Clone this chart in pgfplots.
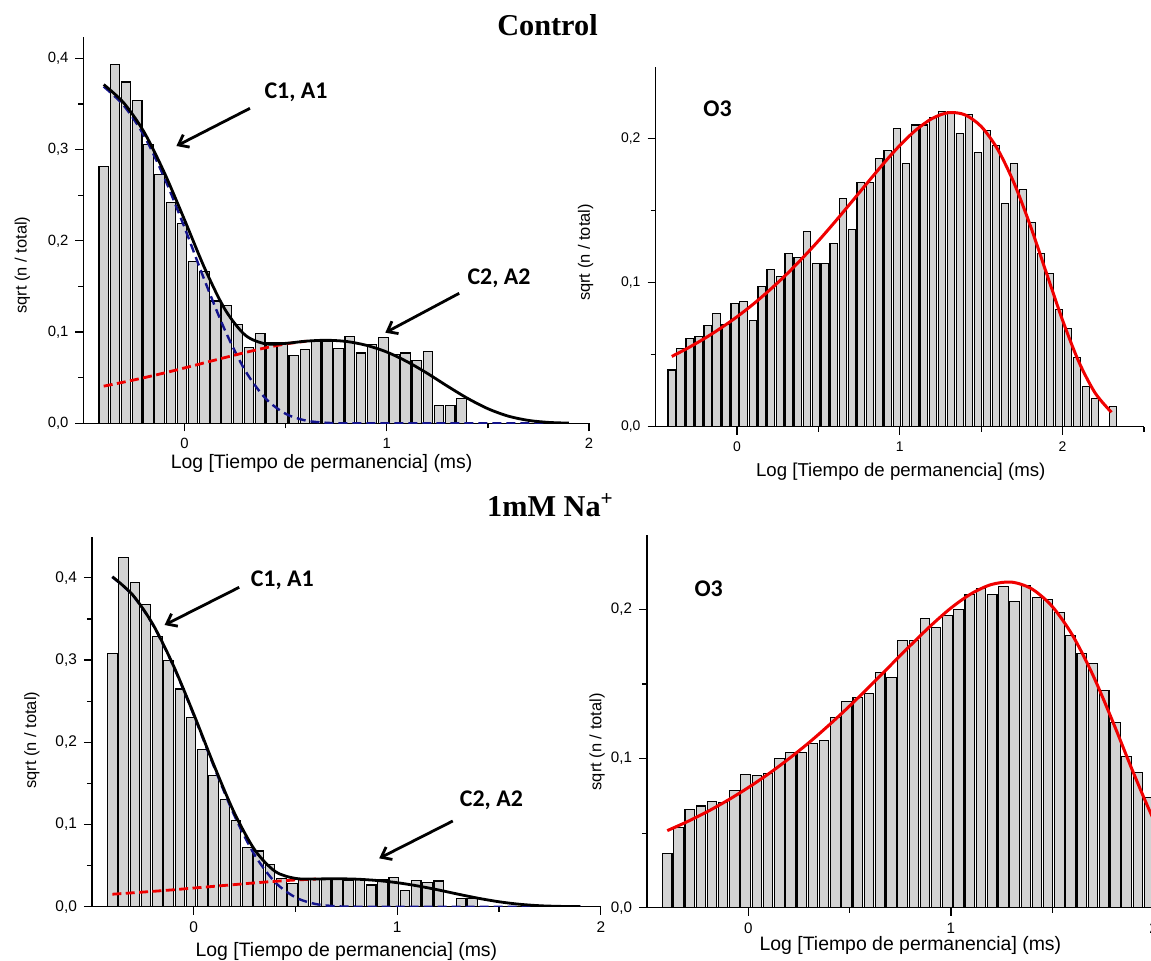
\documentclass[border=0pt]{standalone}
\usepackage{pgfplots}
\pgfplotsset{compat=1.18}
\usepackage{fontspec}
\setmainfont{Liberation Sans}
\newfontfamily\titlefont{Liberation Serif}
\newfontfamily\notefont{Carlito}
\usetikzlibrary{arrows.meta}

\definecolor{barfill}{RGB}{211,211,211}
\definecolor{compblue}{RGB}{20,20,140}
\definecolor{fitred}{RGB}{240,0,0}

% shared look of the four dwell-time histograms
\pgfplotsset{
  histo/.style={
    scale only axis, anchor=south west,
    axis x line*=bottom, axis y line*=left,
    axis line style={line width=0.75bp,-},
    tick align=outside,
    major tick length=4bp, minor tick length=2.5bp,
    every tick/.style={line width=0.6bp, black},
    xmin=-0.5, xmax=2, ymin=0,
    xtick={0,1,2}, minor xtick={0.5,1.5},
    /pgf/number format/assume math mode=true,
    yticklabel style={/pgf/number format/.cd, fixed, fixed zerofill, precision=1, use comma},
    tick label style={font=\fontsize{7.45}{9}\selectfont},
    xlabel={Log [Tiempo de permanencia] (ms)},
    ylabel={sqrt (n / total)},
    xlabel style={font=\fontsize{9.75}{12}\selectfont, anchor=base},
    ylabel style={font=\fontsize{8.25}{10}\selectfont, anchor=center},
  },
  hbar/.style={ybar, bar width=0.047, bar shift=0pt, fill=barfill, draw=black, line width=0.55bp},
  totalfit/.style={smooth, black, line width=1.4bp},
  comp1/.style={smooth, compblue, line width=1.2bp, dash pattern=on 4.5bp off 2.5bp},
  comp2/.style={smooth, fitred, line width=1.4bp, dash pattern=on 4.5bp off 2.2bp},
  o3fit/.style={smooth, fitred, line width=1.5bp},
}

\begin{document}
\begin{tikzpicture}

% ---------------- Control: closed times ----------------
\begin{axis}[histo, at={(41.75bp,-211.65bp)}, width=252.75bp, height=193bp,
  ymax=0.423, ytick={0,0.1,0.2,0.3,0.4}, minor ytick={0.05,0.15,0.25,0.35},
  xlabel style={at={(axis description cs:0.471,0)}, yshift=-22.35bp},
  ylabel style={at={(axis description cs:-0.1207,0.41)}}]
\addplot[hbar] coordinates {
(-0.400,0.281) (-0.345,0.393) (-0.289,0.374) (-0.234,0.354) (-0.179,0.306)
(-0.124,0.273) (-0.068,0.242) (-0.013,0.219) (0.042,0.177) (0.098,0.166)
(0.153,0.134) (0.208,0.129) (0.264,0.108) (0.319,0.083) (0.374,0.098)
(0.430,0.088) (0.485,0.088) (0.540,0.074) (0.595,0.081) (0.651,0.090)
(0.706,0.090) (0.761,0.082) (0.817,0.095) (0.872,0.077) (0.927,0.086)
(0.983,0.094) (1.038,0.075) (1.093,0.077) (1.148,0.069) (1.204,0.079)
(1.259,0.020) (1.314,0.020) (1.370,0.027)};
\addplot[comp1] coordinates {
(-0.4,0.369) (-0.3,0.348) (-0.2,0.315) (-0.1,0.269) (0,0.2144) (0.1,0.156)
(0.2,0.1018) (0.3,0.0576) (0.4,0.0273) (0.5,0.0104) (0.6,0.0030) (0.7,0.0006)
(0.8,0) (1.0,0) (1.2,0) (1.4,0) (1.6,0) (1.8,0) (1.9,0)};
\addplot[comp2] coordinates {
(-0.4,0.0407) (-0.3,0.0452) (-0.2,0.0500) (-0.1,0.0552) (0,0.0607) (0.1,0.0664)
(0.2,0.0721) (0.3,0.0776) (0.4,0.0827) (0.5,0.0870) (0.6,0.0899)};
\addplot[totalfit] coordinates {
(-0.4,0.3712) (-0.3,0.3509) (-0.2,0.3190) (-0.1,0.2746) (0,0.2228) (0.1,0.1696)
(0.2,0.1247) (0.3,0.0966) (0.4,0.0871) (0.5,0.0876) (0.6,0.0900) (0.7,0.0910)
(0.8,0.0897) (0.9,0.0854) (1.0,0.0781) (1.1,0.0676) (1.2,0.0548) (1.3,0.0407)
(1.4,0.0273) (1.5,0.0160) (1.6,0.0079) (1.7,0.0032) (1.8,0.0010) (1.9,0.0002)};
\end{axis}

% ---------------- Control: O3 open state ----------------
\begin{axis}[histo, at={(327.75bp,-213.35bp)}, width=244.25bp, height=180bp,
  xmax=2.5, minor xtick={0.5,1.5,2.5},
  ymax=0.25, ytick={0,0.1,0.2}, minor ytick={0.05,0.15},
  tick label style={font=\fontsize{7}{9}\selectfont},
  xlabel style={at={(axis description cs:0.502,0)}, yshift=-25bp, font=\fontsize{9.35}{12}\selectfont},
  ylabel style={at={(axis description cs:-0.143,0.484)}}]
\addplot[hbar] coordinates {
(-0.400,0.0394) (-0.345,0.0545) (-0.289,0.0614) (-0.234,0.0626) (-0.179,0.0702)
(-0.124,0.0788) (-0.068,0.0707) (-0.013,0.0857) (0.042,0.0867) (0.098,0.0735)
(0.153,0.0973) (0.208,0.1094) (0.264,0.1043) (0.319,0.1200) (0.374,0.1177)
(0.430,0.1356) (0.485,0.1131) (0.540,0.1131) (0.595,0.1275) (0.651,0.1587)
(0.706,0.1367) (0.761,0.1699) (0.817,0.1699) (0.872,0.1860) (0.927,0.1917)
(0.983,0.2070) (1.038,0.1830) (1.093,0.2095) (1.148,0.2095) (1.204,0.2148)
(1.259,0.2190) (1.314,0.2190) (1.370,0.2035) (1.425,0.2167) (1.480,0.1907)
(1.536,0.2056) (1.591,0.1950) (1.646,0.1550) (1.701,0.1830) (1.757,0.1650)
(1.812,0.1420) (1.867,0.1200) (1.923,0.1066) (1.978,0.0816) (2.033,0.0684)
(2.089,0.0480) (2.144,0.0278) (2.199,0.0197) (2.310,0.0139)};
\addplot[o3fit] coordinates {
(-0.4,0.0488) (-0.3,0.0547) (-0.2,0.0612) (-0.1,0.0684) (0,0.0763) (0.1,0.0851)
(0.2,0.0948) (0.3,0.1053) (0.4,0.1168) (0.5,0.1290) (0.6,0.1420) (0.7,0.1555)
(0.8,0.1692) (0.9,0.1827) (1.0,0.1953) (1.1,0.2061) (1.2,0.2141) (1.3,0.2181)
(1.4,0.2166) (1.5,0.2085) (1.6,0.1929) (1.7,0.1697) (1.8,0.1402) (1.9,0.1070)
(2.0,0.0739) (2.1,0.0450) (2.2,0.0234) (2.3,0.0100)};
\end{axis}

% ---------------- 1 mM Na+: closed times ----------------
\begin{axis}[histo, at={(46bp,-453.35bp)}, width=254.4bp, height=185bp,
  ymax=0.45, ytick={0,0.1,0.2,0.3,0.4}, minor ytick={0.05,0.15,0.25,0.35},
  tick label style={font=\fontsize{7.75}{9}\selectfont},
  xlabel style={at={(axis description cs:0.5,0)}, yshift=-24.65bp},
  ylabel style={at={(axis description cs:-0.118,0.45)}}]
\addplot[hbar] coordinates {
(-0.400,0.3078) (-0.345,0.4248) (-0.289,0.3947) (-0.234,0.3675) (-0.179,0.3290)
(-0.124,0.2997) (-0.068,0.2648) (-0.013,0.2303) (0.042,0.1917) (0.098,0.1596)
(0.153,0.1300) (0.208,0.1048) (0.264,0.0719) (0.319,0.0678) (0.374,0.0512)
(0.430,0.0340) (0.485,0.0285) (0.540,0.0345) (0.595,0.0345) (0.651,0.0345)
(0.706,0.0333) (0.761,0.0317) (0.817,0.0333) (0.872,0.0264) (0.927,0.0325)
(0.983,0.0353) (1.038,0.0195) (1.093,0.0317) (1.148,0.0292) (1.204,0.0313)
(1.314,0.0100) (1.370,0.0100)};
\addplot[comp1] coordinates {
(-0.4,0.401) (-0.3,0.3788) (-0.2,0.3426) (-0.1,0.2926) (0,0.2331) (0.1,0.1699)
(0.2,0.1107) (0.3,0.0626) (0.4,0.0297) (0.5,0.0113) (0.6,0.0032) (0.7,0.0006)
(0.8,0) (1.0,0) (1.2,0) (1.4,0) (1.6,0) (1.8,0) (1.9,0)};
\addplot[comp2] coordinates {
(-0.4,0.0152) (-0.3,0.0169) (-0.2,0.0187) (-0.1,0.0206) (0,0.0227) (0.1,0.0248)
(0.2,0.0269) (0.3,0.0290) (0.4,0.0309) (0.5,0.0325) (0.6,0.0336)};
\addplot[totalfit] coordinates {
(-0.4,0.4013) (-0.3,0.3792) (-0.2,0.3431) (-0.1,0.2933) (0,0.2342) (0.1,0.1717)
(0.2,0.1139) (0.3,0.0690) (0.4,0.0429) (0.5,0.0344) (0.6,0.0338) (0.7,0.0340)
(0.8,0.0335) (0.9,0.0319) (1.0,0.0292) (1.1,0.0253) (1.2,0.0205) (1.3,0.0152)
(1.4,0.0102) (1.5,0.0060) (1.6,0.0030) (1.7,0.0012) (1.8,0.0004) (1.9,0.0001)};
\end{axis}

% ---------------- 1 mM Na+: O3 open state ----------------
\begin{axis}[histo, at={(323.5bp,-453.85bp)}, width=253.25bp, height=186.35bp,
  ymax=0.25, ytick={0,0.1,0.2}, minor ytick={0.05,0.15},
  tick label style={font=\fontsize{7.6}{9}\selectfont},
  xlabel style={at={(axis description cs:0.52,0)}, yshift=-21.15bp},
  ylabel style={at={(axis description cs:-0.0987,0.445)}}]
\addplot[hbar] coordinates {
(-0.400,0.0364) (-0.345,0.0539) (-0.289,0.0659) (-0.234,0.0682) (-0.179,0.0715)
(-0.124,0.0706) (-0.068,0.0784) (-0.013,0.0894) (0.042,0.0889) (0.098,0.0901)
(0.153,0.0999) (0.208,0.1041) (0.264,0.1041) (0.319,0.1102) (0.374,0.1124)
(0.430,0.1274) (0.485,0.1385) (0.540,0.1408) (0.595,0.1437) (0.651,0.1578)
(0.706,0.1544) (0.761,0.1790) (0.817,0.1794) (0.872,0.1940) (0.927,0.1880)
(0.983,0.1958) (1.038,0.2000) (1.093,0.2103) (1.148,0.2141) (1.204,0.2103)
(1.259,0.2152) (1.314,0.2056) (1.370,0.2163) (1.425,0.2080) (1.480,0.2069)
(1.536,0.1980) (1.591,0.1823) (1.646,0.1705) (1.701,0.1638) (1.757,0.1455)
(1.812,0.1240) (1.867,0.1012) (1.923,0.0907) (1.978,0.0737)};
\addplot[o3fit] coordinates {
(-0.4,0.0517) (-0.3,0.0578) (-0.2,0.0646) (-0.1,0.0722) (0,0.0806) (0.1,0.0898)
(0.2,0.0999) (0.3,0.1108) (0.4,0.1227) (0.5,0.1353) (0.6,0.1486) (0.7,0.1623)
(0.8,0.1759) (0.9,0.1891) (1.0,0.2010) (1.1,0.2106) (1.2,0.2168) (1.3,0.2184)
(1.4,0.2138) (1.5,0.2021) (1.6,0.1828) (1.7,0.1563) (1.8,0.1245) (1.9,0.0908)
(2.0,0.0593) (2.1,0.0336)};
\end{axis}

% panel headings
\node[anchor=base, font=\titlefont\bfseries\fontsize{15.2}{18}\selectfont] at (273.75bp,-17.85bp) {Control};
\node[anchor=base, font=\titlefont\bfseries\fontsize{15.2}{18}\selectfont] at (275.25bp,-258bp) {1mM Na\textsuperscript{+}};

% component labels and pointers
\tikzset{note/.style={anchor=base, font=\notefont\bfseries\fontsize{12}{14}\selectfont},
         pointer/.style={line width=1.4bp, -{Straight Barb[length=4.5bp,width=7bp,line width=1.4bp]}}}
\node[note] at (148bp,-49.15bp) {C1, A1};
\node[note] at (249.5bp,-142.15bp) {C2, A2};
\node[note] at (358.75bp,-58.35bp) {O3};
\node[note] at (141.15bp,-293bp) {C1, A1};
\node[note] at (245.7bp,-403bp) {C2, A2};
\node[note] at (354.35bp,-298bp) {O3};
\draw[pointer] (125bp,-54.15bp) -- (88.2bp,-73bp);
\draw[pointer] (229.6bp,-146.65bp) -- (192.65bp,-166.35bp);
\draw[pointer] (119.6bp,-293.65bp) -- (82.3bp,-312.5bp);
\draw[pointer] (226.4bp,-410.5bp) -- (189.6bp,-429.15bp);

\pgfresetboundingbox
\path[use as bounding box] (0,0) rectangle (575.5bp,-480.5bp);
\end{tikzpicture}
\end{document}
